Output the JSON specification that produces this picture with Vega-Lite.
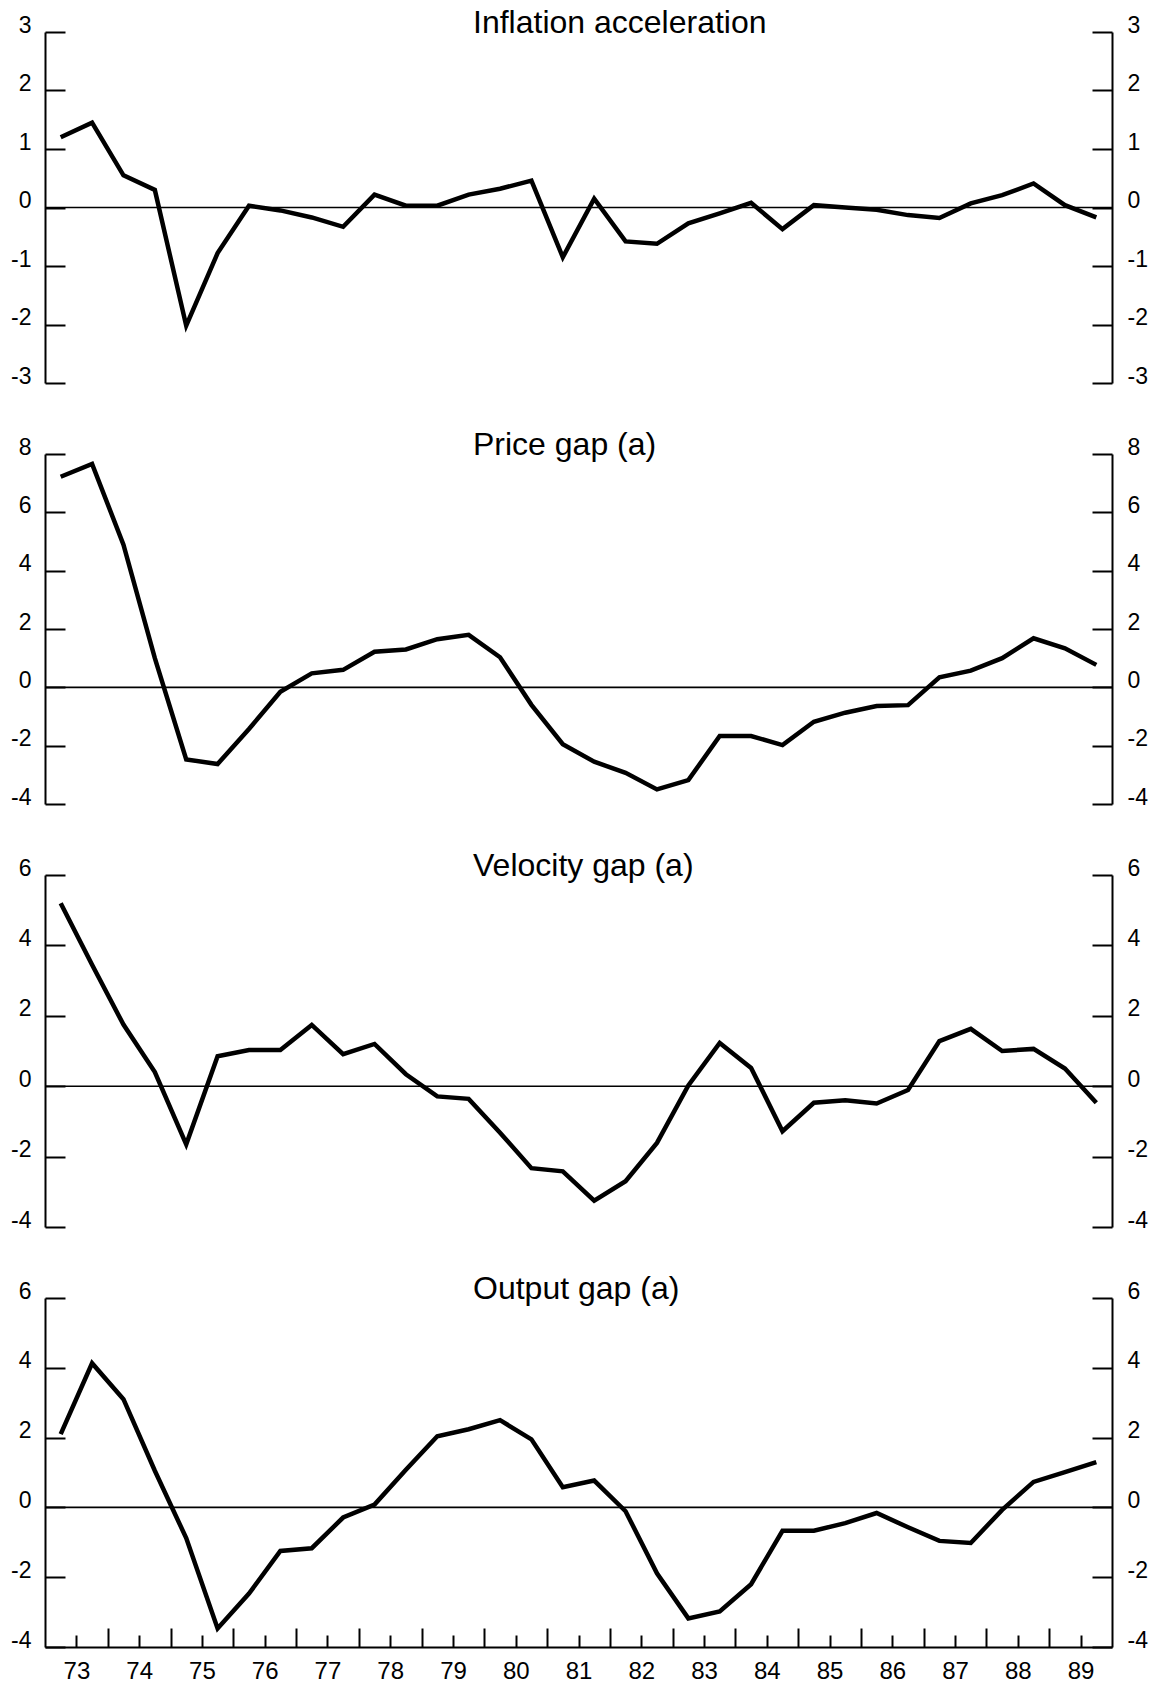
{
  "$schema": "https://vega.github.io/schema/vega-lite/v6.json",
  "background": "white",
  "padding": {"left": 10, "top": 7, "right": 5, "bottom": 0},
  "spacing": 71,
  "bounds": "flush",
  "data": {"values": [
    {"t": 1973.25, "inf": 1.2, "price": 7.22, "vel": 5.2, "out": 2.1},
    {"t": 1973.75, "inf": 1.45, "price": 7.66, "vel": 3.45, "out": 4.13},
    {"t": 1974.25, "inf": 0.55, "price": 4.89, "vel": 1.75, "out": 3.1},
    {"t": 1974.75, "inf": 0.3, "price": 1.0, "vel": 0.4, "out": 1.05},
    {"t": 1975.25, "inf": -2.02, "price": -2.47, "vel": -1.65, "out": -0.88},
    {"t": 1975.75, "inf": -0.78, "price": -2.63, "vel": 0.85, "out": -3.47},
    {"t": 1976.25, "inf": 0.03, "price": -1.43, "vel": 1.03, "out": -2.47},
    {"t": 1976.75, "inf": -0.05, "price": -0.15, "vel": 1.03, "out": -1.25},
    {"t": 1977.25, "inf": -0.17, "price": 0.48, "vel": 1.74, "out": -1.17},
    {"t": 1977.75, "inf": -0.33, "price": 0.6, "vel": 0.91, "out": -0.29},
    {"t": 1978.25, "inf": 0.22, "price": 1.22, "vel": 1.2, "out": 0.08},
    {"t": 1978.75, "inf": 0.03, "price": 1.3, "vel": 0.34, "out": 1.08},
    {"t": 1979.25, "inf": 0.03, "price": 1.65, "vel": -0.29, "out": 2.04},
    {"t": 1979.75, "inf": 0.22, "price": 1.8, "vel": -0.36, "out": 2.24},
    {"t": 1980.25, "inf": 0.32, "price": 1.03, "vel": -1.32, "out": 2.5},
    {"t": 1980.75, "inf": 0.46, "price": -0.6, "vel": -2.33, "out": 1.95},
    {"t": 1981.25, "inf": -0.85, "price": -1.95, "vel": -2.42, "out": 0.58},
    {"t": 1981.75, "inf": 0.15, "price": -2.55, "vel": -3.25, "out": 0.77},
    {"t": 1982.25, "inf": -0.58, "price": -2.93, "vel": -2.7, "out": -0.11},
    {"t": 1982.75, "inf": -0.62, "price": -3.5, "vel": -1.61, "out": -1.89},
    {"t": 1983.25, "inf": -0.27, "price": -3.18, "vel": 0.02, "out": -3.18},
    {"t": 1983.75, "inf": -0.1, "price": -1.67, "vel": 1.23, "out": -2.98},
    {"t": 1984.25, "inf": 0.08, "price": -1.67, "vel": 0.52, "out": -2.2},
    {"t": 1984.75, "inf": -0.37, "price": -1.98, "vel": -1.28, "out": -0.67},
    {"t": 1985.25, "inf": 0.04, "price": -1.18, "vel": -0.47, "out": -0.67},
    {"t": 1985.75, "inf": 0.0, "price": -0.87, "vel": -0.4, "out": -0.45},
    {"t": 1986.25, "inf": -0.04, "price": -0.64, "vel": -0.49, "out": -0.16},
    {"t": 1986.75, "inf": -0.13, "price": -0.61, "vel": -0.11, "out": -0.57},
    {"t": 1987.25, "inf": -0.18, "price": 0.34, "vel": 1.28, "out": -0.96},
    {"t": 1987.75, "inf": 0.07, "price": 0.57, "vel": 1.63, "out": -1.02},
    {"t": 1988.25, "inf": 0.21, "price": 1.0, "vel": 1.0, "out": -0.07},
    {"t": 1988.75, "inf": 0.41, "price": 1.68, "vel": 1.06, "out": 0.73},
    {"t": 1989.25, "inf": 0.04, "price": 1.34, "vel": 0.5, "out": 1.01},
    {"t": 1989.75, "inf": -0.17, "price": 0.77, "vel": -0.47, "out": 1.3}
  ]},
  "config": {
    "view": {"stroke": null},
    "axis": {
      "domainColor": "black", "domainWidth": 2, "tickColor": "black", "tickWidth": 2,
      "labelColor": "black", "labelFont": "Liberation Sans", "labelFontSize": 23,
      "grid": false, "labelOverlap": false, "labelFlush": false, "labelBound": false
    },
    "title": {"font": "Liberation Sans", "fontSize": 32, "fontWeight": "normal", "color": "black"}
  },
  "vconcat": [
    {
      "width": 1067, "height": 351,
      "title": {"text": "Inflation acceleration", "anchor": "start", "frame": "group", "dx": 428, "dy": 51, "offset": 0, "baseline": "alphabetic"},
      "layer": [
        {"mark": {"type": "line", "color": "black", "strokeWidth": 4.5, "strokeJoin": "miter"},
         "encoding": {
           "x": {"field": "t", "type": "quantitative", "scale": {"domain": [1973, 1990], "nice": false, "zero": false}, "axis": null},
           "y": {"field": "inf", "type": "quantitative", "scale": {"domain": [-3, 3], "nice": false, "zero": false},
                 "axis": {"orient": "left", "title": null, "values": [-3, -2, -1, 0, 1, 2, 3], "tickSize": -20, "labelPadding": 34, "labelBaseline": "alphabetic", "labelExpr": "'' + datum.value"}}
         }},
        {"data": {"values": [{}]}, "mark": {"type": "rule", "color": "black", "strokeWidth": 1.6},
         "encoding": {
           "y": {"datum": 0, "type": "quantitative", "scale": {"domain": [-3, 3], "nice": false, "zero": false},
                 "axis": {"orient": "right", "title": null, "values": [-3, -2, -1, 0, 1, 2, 3], "tickSize": -20, "labelPadding": 35, "labelBaseline": "alphabetic", "labelExpr": "'' + datum.value"}}
         }}
      ],
      "resolve": {"scale": {"y": "independent"}}
    },
    {
      "width": 1067, "height": 350,
      "title": {"text": "Price gap (a)", "anchor": "start", "frame": "group", "dx": 428, "dy": 51, "offset": 0, "baseline": "alphabetic"},
      "layer": [
        {"mark": {"type": "line", "color": "black", "strokeWidth": 4.5, "strokeJoin": "miter"},
         "encoding": {
           "x": {"field": "t", "type": "quantitative", "scale": {"domain": [1973, 1990], "nice": false, "zero": false}, "axis": null},
           "y": {"field": "price", "type": "quantitative", "scale": {"domain": [-4, 8], "nice": false, "zero": false},
                 "axis": {"orient": "left", "title": null, "values": [-4, -2, 0, 2, 4, 6, 8], "tickSize": -20, "labelPadding": 34, "labelBaseline": "alphabetic", "labelExpr": "'' + datum.value"}}
         }},
        {"data": {"values": [{}]}, "mark": {"type": "rule", "color": "black", "strokeWidth": 1.6},
         "encoding": {
           "y": {"datum": 0, "type": "quantitative", "scale": {"domain": [-4, 8], "nice": false, "zero": false},
                 "axis": {"orient": "right", "title": null, "values": [-4, -2, 0, 2, 4, 6, 8], "tickSize": -20, "labelPadding": 35, "labelBaseline": "alphabetic", "labelExpr": "'' + datum.value"}}
         }}
      ],
      "resolve": {"scale": {"y": "independent"}}
    },
    {
      "width": 1067, "height": 352,
      "title": {"text": "Velocity gap  (a)", "anchor": "start", "frame": "group", "dx": 428, "dy": 51, "offset": 0, "baseline": "alphabetic"},
      "layer": [
        {"mark": {"type": "line", "color": "black", "strokeWidth": 4.5, "strokeJoin": "miter"},
         "encoding": {
           "x": {"field": "t", "type": "quantitative", "scale": {"domain": [1973, 1990], "nice": false, "zero": false}, "axis": null},
           "y": {"field": "vel", "type": "quantitative", "scale": {"domain": [-4, 6], "nice": false, "zero": false},
                 "axis": {"orient": "left", "title": null, "values": [-4, -2, 0, 2, 4, 6], "tickSize": -20, "labelPadding": 34, "labelBaseline": "alphabetic", "labelExpr": "'' + datum.value"}}
         }},
        {"data": {"values": [{}]}, "mark": {"type": "rule", "color": "black", "strokeWidth": 1.6},
         "encoding": {
           "y": {"datum": 0, "type": "quantitative", "scale": {"domain": [-4, 6], "nice": false, "zero": false},
                 "axis": {"orient": "right", "title": null, "values": [-4, -2, 0, 2, 4, 6], "tickSize": -20, "labelPadding": 35, "labelBaseline": "alphabetic", "labelExpr": "'' + datum.value"}}
         }}
      ],
      "resolve": {"scale": {"y": "independent"}}
    },
    {
      "width": 1067, "height": 349,
      "title": {"text": "Output gap (a)", "anchor": "start", "frame": "group", "dx": 428, "dy": 51, "offset": 0, "baseline": "alphabetic"},
      "layer": [
        {"mark": {"type": "line", "color": "black", "strokeWidth": 4.5, "strokeJoin": "miter"},
         "encoding": {
           "x": {"field": "t", "type": "quantitative", "scale": {"domain": [1973, 1990], "nice": false, "zero": false},
                 "axis": {"orient": "bottom", "title": null,
                          "values": [1973.5, 1974, 1974.5, 1975, 1975.5, 1976, 1976.5, 1977, 1977.5, 1978, 1978.5, 1979, 1979.5, 1980, 1980.5, 1981, 1981.5, 1982, 1982.5, 1983, 1983.5, 1984, 1984.5, 1985, 1985.5, 1986, 1986.5, 1987, 1987.5, 1988, 1988.5, 1989, 1989.5],
                          "tickSize": {"expr": "datum.value % 1 > 0 ? -12 : -19"},
                          "labelPadding": 24, "labelFontSize": 24,
                          "labelExpr": "datum.value % 1 > 0 ? substring('' + floor(datum.value), 2) : ''"}},
           "y": {"field": "out", "type": "quantitative", "scale": {"domain": [-4, 6], "nice": false, "zero": false},
                 "axis": {"orient": "left", "title": null, "values": [-4, -2, 0, 2, 4, 6], "tickSize": -20, "labelPadding": 34, "labelBaseline": "alphabetic", "labelExpr": "'' + datum.value"}}
         }},
        {"data": {"values": [{}]}, "mark": {"type": "rule", "color": "black", "strokeWidth": 1.6},
         "encoding": {
           "y": {"datum": 0, "type": "quantitative", "scale": {"domain": [-4, 6], "nice": false, "zero": false},
                 "axis": {"orient": "right", "title": null, "values": [-4, -2, 0, 2, 4, 6], "tickSize": -20, "labelPadding": 35, "labelBaseline": "alphabetic", "labelExpr": "'' + datum.value"}}
         }}
      ],
      "resolve": {"scale": {"y": "independent"}}
    }
  ]
}
